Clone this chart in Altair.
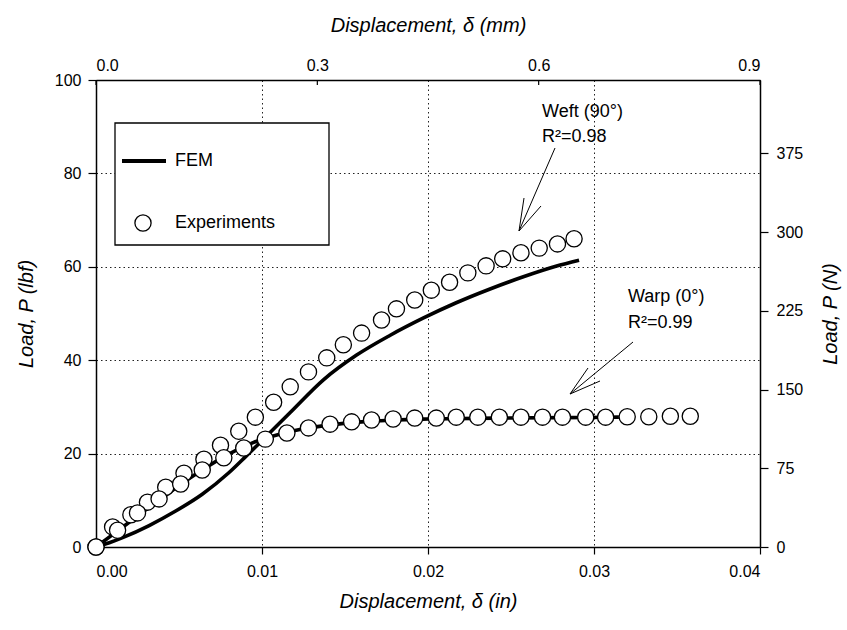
import altair as alt
import pandas as pd

# ---------------- data ----------------
weft_exp_x = [0.0, 0.0010, 0.0021, 0.0031, 0.0042, 0.0053, 0.0065, 0.0075, 0.0086, 0.0096,
              0.0107, 0.0117, 0.0128, 0.0139, 0.0149, 0.0160, 0.0172, 0.0181, 0.0192, 0.0202,
              0.0213, 0.0224, 0.0235, 0.0245, 0.0256, 0.0267, 0.0278, 0.0288]
weft_exp_y = [0.0, 4.3, 6.9, 9.6, 12.8, 15.8, 18.8, 21.8, 24.8, 27.8,
              31.0, 34.3, 37.5, 40.5, 43.3, 45.8, 48.6, 51.0, 52.9, 55.0,
              56.7, 58.7, 60.2, 61.7, 63.0, 64.0, 64.9, 66.0]

warp_exp_x = [0.0, 0.0013, 0.0025, 0.0038, 0.0051, 0.0064, 0.0077, 0.0089, 0.0102, 0.0115,
              0.0128, 0.0141, 0.0154, 0.0166, 0.0179, 0.0192, 0.0205, 0.0217, 0.0230, 0.0243,
              0.0256, 0.0269, 0.0281, 0.0295, 0.0307, 0.0320, 0.0333, 0.0346, 0.0358]
warp_exp_y = [0.0, 3.6, 7.3, 10.3, 13.5, 16.5, 19.1, 21.2, 23.1, 24.4,
              25.5, 26.3, 26.8, 27.2, 27.4, 27.6, 27.6, 27.8, 27.8, 27.8,
              27.8, 27.8, 27.8, 27.8, 27.8, 27.9, 27.9, 28.0, 28.0]

weft_fem_x = [0.0, 0.0008, 0.0016, 0.0032, 0.0048, 0.0064, 0.0080, 0.0090, 0.0100, 0.0117,
              0.0137, 0.0157, 0.0177, 0.0197, 0.0217, 0.0237, 0.0257, 0.0277, 0.0291]
weft_fem_y = [0.0, 0.9, 2.0, 4.6, 7.7, 11.3, 15.9, 19.3, 22.8, 28.8,
              35.8, 41.1, 45.3, 49.0, 52.3, 55.2, 57.8, 60.1, 61.4]

warp_fem_x = [0.0, 0.0020, 0.0040, 0.0060, 0.0080, 0.0095, 0.0110, 0.0125, 0.0140, 0.0160,
              0.0180, 0.0200, 0.0240, 0.0280, 0.0315]
warp_fem_y = [0.0, 5.3, 10.6, 15.6, 19.9, 22.4, 24.1, 25.3, 26.1, 26.8,
              27.2, 27.4, 27.6, 27.7, 27.8]

x_ticks_in = [0.0, 0.01, 0.02, 0.03, 0.04]
y_ticks_lbf = [0, 20, 40, 60, 80, 100]
x_ticks_mm = [0.0, 0.3, 0.6, 0.9]
y_ticks_n = [0, 75, 150, 225, 300, 375]

FONT = "Liberation Sans"

exp_df = pd.concat([
    pd.DataFrame({"x": weft_exp_x, "y": weft_exp_y, "series": "Weft"}),
    pd.DataFrame({"x": warp_exp_x, "y": warp_exp_y, "series": "Warp"}),
], ignore_index=True)
exp_df["order"] = range(len(exp_df))

fem_df = pd.concat([
    pd.DataFrame({"x": weft_fem_x, "y": weft_fem_y, "series": "Weft"}),
    pd.DataFrame({"x": warp_fem_x, "y": warp_fem_y, "series": "Warp"}),
], ignore_index=True)

xs = alt.Scale(domain=[0, 0.04], nice=False, zero=False)
ys = alt.Scale(domain=[0, 100], nice=False, zero=False)

x_axis = alt.Axis(values=x_ticks_in, format=".2f", title="Displacement, δ (in)",
                  orient="bottom", grid=True, gridDash=[1.5, 3], gridColor="#222", gridWidth=1,
                  tickSize=7, labelPadding=9, titlePadding=12,
                  labelFontSize=16, titleFontSize=20, titleFontStyle="italic",
                  titleFontWeight="normal", labelFont=FONT, titleFont=FONT,
                  labelColor="black", titleColor="black", domainColor="black",
                  tickColor="black", domainWidth=1.5, tickWidth=1.2)
y_axis = alt.Axis(values=y_ticks_lbf, format="d", title="Load, P (lbf)",
                  orient="left", grid=True, gridDash=[1.5, 3], gridColor="#222", gridWidth=1,
                  tickSize=8, labelPadding=7, titlePadding=18,
                  labelFontSize=16, titleFontSize=20, titleFontStyle="italic",
                  titleFontWeight="normal", labelFont=FONT, titleFont=FONT,
                  labelColor="black", titleColor="black", domainColor="black",
                  tickColor="black", domainWidth=1.5, tickWidth=1.2)

fem = alt.Chart(fem_df).mark_line(color="black", strokeWidth=3.6, interpolate="monotone").encode(
    x=alt.X("x:Q", scale=xs, axis=x_axis),
    y=alt.Y("y:Q", scale=ys, axis=y_axis),
    detail="series:N",
)

pts = alt.Chart(exp_df).mark_point(shape="circle", size=262, fill="white", stroke="black",
                                   strokeWidth=1.3, opacity=1, fillOpacity=1).encode(
    x=alt.X("x:Q", scale=xs),
    y=alt.Y("y:Q", scale=ys),
    order=alt.Order("order:Q"),
)

one = alt.Data(values=[{}])


def seg(x1, y1, x2, y2, w=1.0):
    return alt.Chart(one).mark_rule(color="black", strokeWidth=w).encode(
        x=alt.value(x1), y=alt.value(y1), x2=alt.value(x2), y2=alt.value(y2))


def txt(s, x, y, size=18):
    return alt.Chart(one).mark_text(text=s, align="left", baseline="middle", font=FONT,
                                    fontSize=size, color="black").encode(
        x=alt.value(x), y=alt.value(y))


legend_box = alt.Chart(one).mark_rect(fill="white", stroke="black", strokeWidth=1.3).encode(
    x=alt.value(19), x2=alt.value(233), y=alt.value(43), y2=alt.value(165))
legend_line = seg(26, 81, 70, 81, 4)
legend_pt = alt.Chart(one).mark_point(shape="circle", size=262, fill="white", stroke="black",
                                      strokeWidth=1.3, opacity=1).encode(
    x=alt.value(47), y=alt.value(143))
legend_t1 = txt("FEM", 79, 81)
legend_t2 = txt("Experiments", 79, 143)

ann = [
    txt("Weft (90°)", 446, 32),
    txt("R²=0.98", 446, 57),
    seg(459, 68, 423, 151),
    seg(423, 151, 428, 118),
    seg(423, 151, 445, 126),
    txt("Warp (0°)", 532, 217),
    txt("R²=0.99", 532, 243),
    seg(537, 262, 474, 314),
    seg(474, 314, 492, 288),
    seg(474, 314, 504, 301),
]

main = alt.layer(fem, legend_box, legend_line, legend_pt, legend_t1, legend_t2, pts, *ann)

# top axis (mm) with inward ticks
top_df = pd.DataFrame({"mm": x_ticks_mm})
top = alt.Chart(top_df).mark_rule(color="black", strokeWidth=1.2).encode(
    x=alt.X("mm:Q", scale=alt.Scale(domain=[0, 0.9], nice=False, zero=False),
            axis=alt.Axis(orient="top", values=x_ticks_mm, format=".1f",
                          title="Displacement, δ (mm)", ticks=False, labelPadding=7,
                          titlePadding=22, labelFontSize=16, titleFontSize=20,
                          titleFontStyle="italic", titleFontWeight="normal",
                          labelFont=FONT, titleFont=FONT, labelColor="black",
                          titleColor="black", domainColor="black", domainWidth=1.5,
                          grid=False)),
    y=alt.value(0), y2=alt.value(5),
)

# right axis (N)
right_df = pd.DataFrame({"n": y_ticks_n})
right = alt.Chart(right_df).mark_point(opacity=0).encode(
    x=alt.value(0),
    y=alt.Y("n:Q", scale=alt.Scale(domain=[0, 444.8], nice=False, zero=False),
            axis=alt.Axis(orient="right", values=y_ticks_n, format="d",
                          title="Load, P (N)", tickSize=8, labelPadding=8,
                          titlePadding=18, titleAngle=270, titleBaseline="top",
                          labelFontSize=16, titleFontSize=20,
                          titleFontStyle="italic", titleFontWeight="normal",
                          labelFont=FONT, titleFont=FONT, labelColor="black",
                          titleColor="black", domainColor="black", tickColor="black",
                          domainWidth=1.5, tickWidth=1.2, grid=False)),
)

chart = alt.layer(main, top, right).resolve_scale(
    x="independent", y="independent"
).properties(
    width=664, height=467,
    padding={"left": 96, "top": 80, "right": 87, "bottom": 83},
    autosize=alt.AutoSizeParams(type="none"),
    background="white",
).configure_view(stroke=None)

chart.save("out.html", embed_options={"renderer": "svg", "actions": False})
